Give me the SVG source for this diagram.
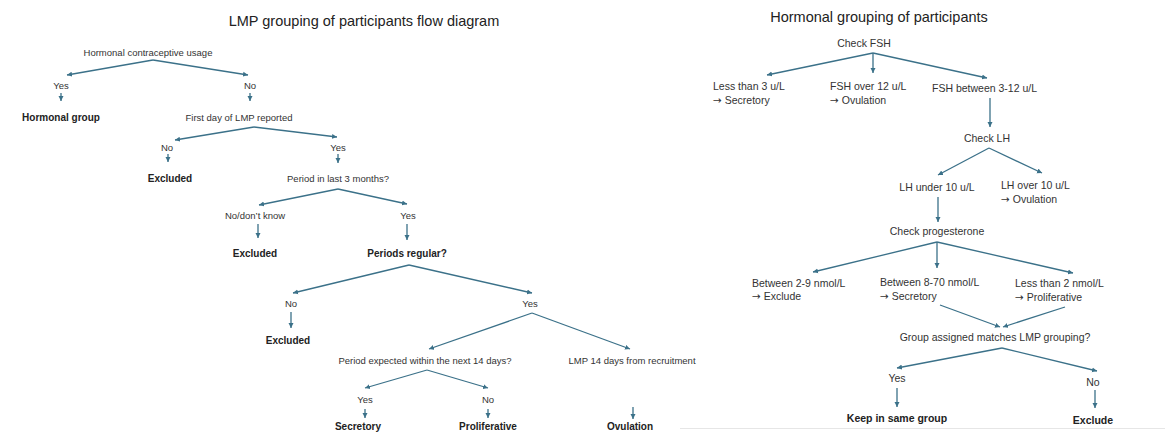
<svg xmlns="http://www.w3.org/2000/svg" width="1165" height="433" viewBox="0 0 1165 433">
<style>
text{font-family:"Liberation Sans",Arial,sans-serif;fill:#333}
.t{font-size:14.5px;fill:#222}
.l{font-size:9.5px;text-anchor:middle}
.lb{font-size:10px;font-weight:bold;text-anchor:middle;fill:#222}
.r{font-size:10.5px}
.rc{font-size:10.5px;text-anchor:middle}
.rb{font-size:10.5px;font-weight:bold;text-anchor:middle;fill:#222}
.ar{font-family:"DejaVu Sans",sans-serif}
.c line{stroke:#3b7189;stroke-width:1.3;marker-end:url(#ah)}
</style>
<defs>
<marker id="ah" markerUnits="userSpaceOnUse" markerWidth="6" markerHeight="6" refX="5" refY="3" orient="auto">
<path d="M0,0.5 L5,3 L0,5.5 z" fill="#3b7189"/>
</marker>
</defs>
<rect width="1165" height="433" fill="#fff"/>
<text class="t" x="364" y="26" text-anchor="middle">LMP grouping of participants flow diagram</text>
<text class="t" x="879" y="22" text-anchor="middle">Hormonal grouping of participants</text>

<g id="connectors" class="c">
<line x1="153" y1="60" x2="67" y2="75"/>
<line x1="153" y1="60" x2="248" y2="75"/>
<line x1="61" y1="93" x2="61" y2="101"/>
<line x1="250" y1="93" x2="250" y2="101"/>
<line x1="254" y1="127" x2="175" y2="140"/>
<line x1="254" y1="127" x2="337" y2="137"/>
<line x1="168" y1="154" x2="168" y2="162"/>
<line x1="338" y1="154" x2="338" y2="163"/>
<line x1="338" y1="189" x2="259" y2="205"/>
<line x1="338" y1="189" x2="407" y2="204"/>
<line x1="258" y1="224" x2="258" y2="238"/>
<line x1="407" y1="224" x2="407" y2="240"/>
<line x1="409" y1="265" x2="293" y2="293"/>
<line x1="409" y1="265" x2="532" y2="293"/>
<line x1="291" y1="312" x2="291" y2="328"/>
<line x1="532" y1="313" x2="429" y2="349"/>
<line x1="532" y1="313" x2="630" y2="349"/>
<line x1="427" y1="370" x2="365" y2="388"/>
<line x1="427" y1="370" x2="488" y2="388"/>
<line x1="365" y1="409" x2="365" y2="418"/>
<line x1="488" y1="409" x2="488" y2="418"/>
<line x1="633" y1="407" x2="633" y2="419"/>
<line x1="873" y1="53" x2="767" y2="75"/>
<line x1="873" y1="53" x2="873" y2="73"/>
<line x1="873" y1="53" x2="987" y2="78"/>
<line x1="990" y1="98" x2="990" y2="127"/>
<line x1="989" y1="148" x2="938" y2="175"/>
<line x1="989" y1="148" x2="1042" y2="173"/>
<line x1="938" y1="197" x2="938" y2="222"/>
<line x1="937" y1="242" x2="813" y2="272"/>
<line x1="937" y1="242" x2="937" y2="268"/>
<line x1="937" y1="242" x2="1073" y2="273"/>
<line x1="940" y1="305" x2="1000" y2="327"/>
<line x1="1065" y1="307" x2="1003" y2="327"/>
<line x1="1002" y1="348" x2="897" y2="368"/>
<line x1="1002" y1="348" x2="1097" y2="371"/>
<line x1="897" y1="388" x2="897" y2="407"/>
<line x1="1095" y1="390" x2="1095" y2="408"/>
</g>

<g id="n-hcu"><text class="l" x="148" y="55.5">Hormonal contraceptive usage</text></g>
<g id="n-yes1"><text class="l" x="61" y="88.5">Yes</text></g>
<g id="n-no1"><text class="l" x="250" y="88.5">No</text></g>
<g id="n-hgroup"><text class="lb" x="61" y="120.5">Hormonal group</text></g>
<g id="n-firstday"><text class="l" x="239" y="120.5">First day of LMP reported</text></g>
<g id="n-no2"><text class="l" x="167" y="150.5">No</text></g>
<g id="n-yes2"><text class="l" x="338" y="150.5">Yes</text></g>
<g id="n-excl1"><text class="lb" x="170" y="181.5">Excluded</text></g>
<g id="n-period3"><text class="l" x="338" y="181.5">Period in last 3 months?</text></g>
<g id="n-nodk"><text class="l" x="255" y="218.5">No/don’t know</text></g>
<g id="n-yes3"><text class="l" x="408" y="218.5">Yes</text></g>
<g id="n-excl2"><text class="lb" x="255" y="256.5">Excluded</text></g>
<g id="n-regular"><text class="lb" x="407" y="256.5">Periods regular?</text></g>
<g id="n-no4"><text class="l" x="291" y="306.5">No</text></g>
<g id="n-yes4"><text class="l" x="530" y="306.5">Yes</text></g>
<g id="n-excl3"><text class="lb" x="288" y="343.5">Excluded</text></g>
<g id="n-expected"><text class="l" x="425" y="363.5">Period expected within the next 14 days?</text></g>
<g id="n-lmp14"><text class="l" x="632" y="363.5">LMP 14 days from recruitment</text></g>
<g id="n-yes5"><text class="l" x="365" y="402.5">Yes</text></g>
<g id="n-no5"><text class="l" x="488" y="402.5">No</text></g>
<g id="n-secretory"><text class="lb" x="358" y="430">Secretory</text></g>
<g id="n-prolif"><text class="lb" x="488" y="430">Proliferative</text></g>
<g id="n-ovul"><text class="lb" x="630" y="430">Ovulation</text></g>

<g id="n-checkfsh"><text class="rc" x="864" y="46.5">Check FSH</text></g>
<g id="n-fshlt3"><text class="r" x="713" y="89.5">Less than 3 u/L</text><text class="r" x="713" y="103.5"><tspan class="ar">→</tspan> Secretory</text></g>
<g id="n-fshgt12"><text class="r" x="830" y="89.5">FSH over 12 u/L</text><text class="r" x="830" y="103.5"><tspan class="ar">→</tspan> Ovulation</text></g>
<g id="n-fshmid"><text class="r" x="932" y="91.5">FSH between 3-12 u/L</text></g>
<g id="n-checklh"><text class="rc" x="987" y="141.5">Check LH</text></g>
<g id="n-lhlt10"><text class="rc" x="937" y="190.5">LH under 10 u/L</text></g>
<g id="n-lhgt10"><text class="r" x="1001" y="188.5">LH over 10 u/L</text><text class="r" x="1001" y="202.5"><tspan class="ar">→</tspan> Ovulation</text></g>
<g id="n-checkprog"><text class="rc" x="937" y="234.5">Check progesterone</text></g>
<g id="n-prog29"><text class="r" x="752" y="286.5">Between 2-9 nmol/L</text><text class="r" x="752" y="299.5"><tspan class="ar">→</tspan> Exclude</text></g>
<g id="n-prog870"><text class="r" x="880" y="285.5">Between 8-70 nmol/L</text><text class="r" x="880" y="299.5"><tspan class="ar">→</tspan> Secretory</text></g>
<g id="n-proglt2"><text class="r" x="1015" y="286.5">Less than 2 nmol/L</text><text class="r" x="1015" y="300.5"><tspan class="ar">→</tspan> Proliferative</text></g>
<g id="n-match"><text class="rc" x="995" y="340.5">Group assigned matches LMP grouping?</text></g>
<g id="n-yes6"><text class="rc" x="897" y="381.5">Yes</text></g>
<g id="n-no6"><text class="rc" x="1093" y="385.5">No</text></g>
<g id="n-keep"><text class="rb" x="897" y="421.5">Keep in same group</text></g>
<g id="n-exclude"><text class="rb" x="1093" y="423.5">Exclude</text></g>
<line x1="680" y1="428.5" x2="1165" y2="428.5" stroke="#e6e6e6" stroke-width="1"/>
</svg>
